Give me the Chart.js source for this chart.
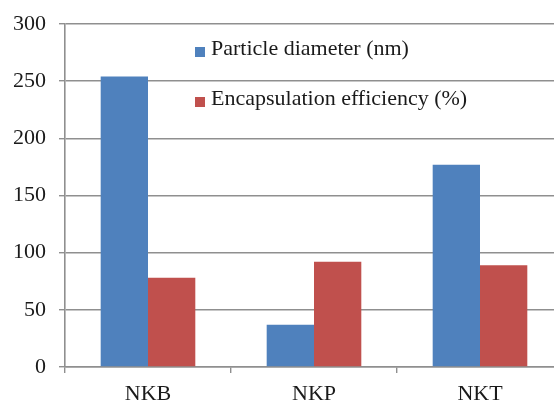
<!DOCTYPE html>
<html>
<head>
<meta charset="utf-8">
<script src="https://cdn.jsdelivr.net/npm/chart.js@4"></script>
<style>
  html, body { margin: 0; padding: 0; background: #fff; overflow: hidden; }
  #wrap { position: relative; width: 554px; height: 401px; overflow: hidden; }
  canvas { position: absolute; left: 0; top: 0; }
  .leg { position: absolute; left: 195px; font: 22px "Liberation Serif", "Times New Roman", serif; color: #1a1a1a; white-space: nowrap; }
  .leg i { position: absolute; left: 0; width: 10px; height: 10px; }
  .leg span { position: absolute; left: 16px; }
</style>
</head>
<body>
<div id="wrap">
  <canvas id="c" width="566" height="401"></canvas>
  <div id="legend"></div>
</div>
<script>
// values
const categories = ['NKB', 'NKP', 'NKT'];
const seriesNames = ['Particle diameter (nm)', 'Encapsulation efficiency (%)'];
const particleDiameter = [254, 37, 177];
const encapsulation = [78, 92, 89];
const yTicks = [0, 50, 100, 150, 200, 250, 300];
const colors = ['#4F81BD', '#C0504D'];

const gridGray = '#8f8f8f';
const font = { family: '"Liberation Serif", "Times New Roman", serif', size: 22 };

// legend sits inside the plot, like the original
const legendEl = document.getElementById('legend');
const legendTops = [35, 85];
seriesNames.forEach((name, i) => {
    const d = document.createElement('div');
    d.className = 'leg';
    d.style.top = legendTops[i] + 'px';
    d.innerHTML = `<i style="background:${colors[i]};top:12px"></i><span>${name}</span>`;
    legendEl.appendChild(d);
});

new Chart(document.getElementById('c').getContext('2d'), {
    type: 'bar',
    data: {
        labels: categories,
        datasets: [
            { label: seriesNames[0], data: particleDiameter, backgroundColor: colors[0] },
            { label: seriesNames[1], data: encapsulation, backgroundColor: colors[1] }
        ]
    },
    options: {
        responsive: false,
        animation: false,
        devicePixelRatio: 1,
        layout: { padding: { top: 24, right: 3, left: 0, bottom: 0 } },
        datasets: { bar: { categoryPercentage: 0.57, barPercentage: 1.0 } },
        plugins: { legend: { display: false }, tooltip: { enabled: false } },
        scales: {
            x: {
                offset: true,
                grid: { offset: true, drawOnChartArea: false, drawTicks: true, tickLength: 6, color: gridGray, lineWidth: 1.4 },
                border: { color: gridGray, width: 1.6 },
                ticks: { color: '#1a1a1a', font: font, padding: 8 },
                afterFit: s => { s.height = 34; }
            },
            y: {
                min: 0,
                max: 300,
                afterBuildTicks: s => { s.ticks = yTicks.map(v => ({ value: v })); },
                grid: { color: gridGray, lineWidth: 1.4, tickLength: 6 },
                border: { color: gridGray, width: 1.6 },
                ticks: { color: '#1a1a1a', font: font, padding: 13 },
                afterFit: s => { s.width = 65; s.paddingTop = 0; s.paddingBottom = 0; }
            }
        }
    }
});
</script>
</body>
</html>
